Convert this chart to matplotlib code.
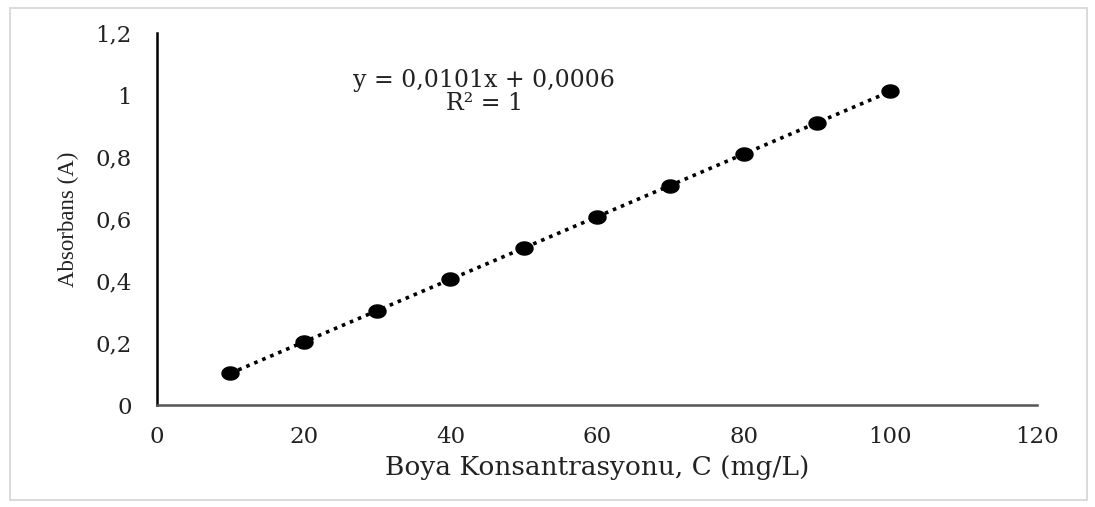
import numpy as np
import matplotlib
matplotlib.use("Agg")
import matplotlib.pyplot as plt
from matplotlib.patches import Rectangle
from matplotlib.path import Path

plt.rcParams['font.family'] = ['DejaVu Serif', 'Liberation Serif']

conc = [10, 20, 30, 40, 50, 60, 70, 80, 90, 100]
absorb = [0.102, 0.203, 0.304, 0.405, 0.508, 0.607, 0.708, 0.809, 0.910, 1.012]
x_ticks = [0, 20, 40, 60, 80, 100, 120]
y_ticks = [0, 0.2, 0.4, 0.6, 0.8, 1.0, 1.2]
y_tick_labels = ['0', '0,2', '0,4', '0,6', '0,8', '1', '1,2']
eq_text = "y = 0,0101x + 0,0006\nR² = 1"

fig = plt.figure(figsize=(10.95, 5.07), dpi=100)
fig.patches.append(Rectangle((10/1095, 7/507), 1077/1095, 492/507, transform=fig.transFigure,
                             fill=False, edgecolor='#d4d4d4', linewidth=1.2))
ax = fig.add_axes([157/1095, 102/507, 880/1095, 372/507])

# elliptical marker (slightly wider than tall)
t = np.linspace(0, 2*np.pi, 60)
ell = Path(np.column_stack([1.3*np.cos(t), np.sin(t)]), closed=True)

coef = np.polyfit(conc, absorb, 1)
xs = np.array([min(conc), max(conc)])
ax.plot(xs, np.polyval(coef, xs), linestyle=(0, (1, 1.4)), color='black', linewidth=2.6, zorder=2)
ax.scatter(conc, absorb, s=150, marker=ell, color='black', zorder=3)

ax.set_xlim(0, 120)
ax.set_ylim(0, 1.2)
ax.set_xticks(x_ticks)
ax.set_xticklabels([str(v) for v in x_ticks])
ax.set_yticks(y_ticks)
ax.set_yticklabels(y_tick_labels)
ax.tick_params(length=0, labelsize=16.5, colors='#222222')
ax.tick_params(axis='x', pad=15)
ax.tick_params(axis='y', pad=18)
for s in ['top', 'right']:
    ax.spines[s].set_visible(False)
ax.spines['left'].set_linewidth(1.8)
ax.spines['left'].set_color('black')
ax.spines['bottom'].set_linewidth(1.8)
ax.spines['bottom'].set_color('#555555')

ax.set_xlabel('Boya Konsantrasyonu, C (mg/L)', fontsize=19, labelpad=5, color='#222222')
ax.set_ylabel('Absorbans (A)', fontsize=16.5, labelpad=12, color='#222222',
              family=['Liberation Serif', 'DejaVu Serif'])

ax.text(44.6, 1.01, eq_text, ha='center', va='center', fontsize=17, linespacing=1.0, color='#222222')

fig.savefig('out.png', dpi=100)
